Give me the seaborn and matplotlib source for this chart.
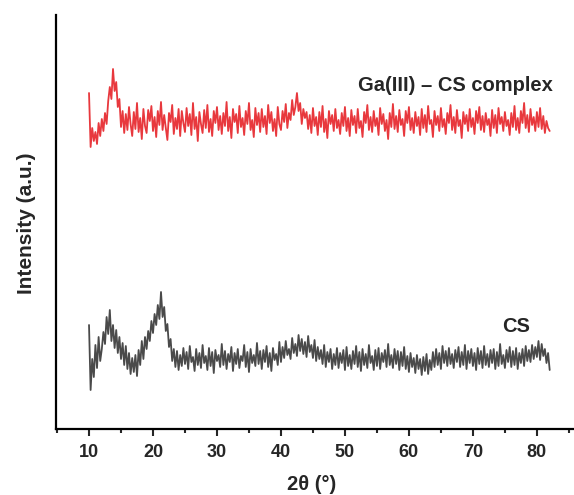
import numpy as np
import pandas as pd
import matplotlib
matplotlib.use("Agg")
import matplotlib.pyplot as plt
from matplotlib.ticker import MultipleLocator
import seaborn as sns

# 2-theta grid (degrees), 0.25 deg steps from 10 to 82
two_theta = np.arange(10.0, 82.001, 0.25)

# Ga(III)-CS complex intensity (a.u.)
ga_cs = [
    336, 282, 301, 288, 297, 285, 306, 293, 310, 298, 316, 305,
    328, 342, 330, 360, 338, 347, 322, 330, 302, 318, 296, 315,
    299, 322, 305, 293, 317, 300, 326, 297, 311, 290, 320, 303,
    296, 319, 308, 323, 298, 312, 292, 318, 304, 327, 299, 314,
    301, 289, 316, 307, 324, 295, 311, 300, 320, 293, 318, 306,
    297, 321, 303, 315, 294, 326, 300, 312, 288, 317, 305, 296,
    319, 301, 324, 297, 310, 293, 318, 306, 322, 299, 313, 295,
    316, 303, 327, 298, 312, 291, 320, 307, 315, 296, 323, 302,
    311, 294, 318, 305, 326, 299, 309, 292, 321, 304, 316, 297,
    320, 302, 313, 295, 324, 306, 317, 298, 310, 293, 322, 305,
    299, 318, 307, 325, 301, 316, 309, 329, 314, 322, 336, 318,
    326, 305, 320, 311, 317, 300, 314, 296, 321, 303, 312, 294,
    317, 302, 323, 297, 310, 291, 318, 305, 314, 298, 320, 301,
    309, 295, 316, 303, 322, 298, 311, 293, 319, 304, 313, 296,
    320, 301, 308, 292, 317, 306, 324, 299, 312, 297, 318, 303,
    311, 294, 321, 305, 315, 298, 309, 290, 316, 302, 325, 300,
    313, 297, 319, 304, 310, 293, 318, 306, 322, 299, 311, 296,
    317, 303, 312, 294, 320, 301, 314, 297, 323, 305, 309, 292,
    318, 304, 313, 298, 321, 302, 310, 295, 316, 306, 324, 299,
    312, 296, 319, 303, 309, 291, 317, 305, 314, 298, 320, 302,
    311, 295, 318, 306, 322, 299, 313, 297, 316, 304, 310, 293,
    319, 301, 314, 296, 321, 305, 312, 298, 317, 303, 309, 294,
    316, 302, 323, 299, 311, 296, 318, 306, 326, 301, 314, 297,
    320, 304, 312, 298, 317, 302, 321, 300, 313, 296, 308, 301,
    298,
]

# CS intensity (a.u.)
cs = [
    104, 39, 70, 52, 84, 61, 92, 68, 80, 97, 85, 112,
    95, 119, 88, 104, 81, 99, 76, 92, 70, 86, 64, 83,
    60, 76, 55, 71, 57, 74, 53, 79, 64, 88, 70, 92,
    80, 98, 88, 108, 96, 115, 104, 124, 110, 137, 112, 122,
    98, 105, 82, 90, 68, 80, 62, 78, 59, 74, 63, 81,
    65, 77, 60, 83, 67, 72, 58, 80, 64, 76, 61, 84,
    66, 73, 59, 81, 63, 77, 56, 79, 68, 74, 62, 85,
    64, 78, 60, 75, 67, 82, 58, 76, 65, 80, 61, 73,
    68, 84, 62, 77, 57, 80, 66, 74, 63, 86, 65, 78,
    60, 79, 67, 83, 62, 76, 58, 81, 69, 75, 64, 87,
    67, 82, 71, 88, 74, 80, 70, 91, 76, 85, 73, 94,
    78, 90, 75, 87, 72, 93, 77, 84, 71, 89, 68, 82,
    70, 79, 65, 84, 62, 77, 67, 80, 60, 75, 64, 81,
    61, 76, 66, 79, 59, 82, 63, 74, 60, 78, 65, 83,
    62, 77, 58, 80, 64, 75, 61, 84, 66, 73, 59, 79,
    63, 81, 60, 76, 67, 79, 62, 85, 64, 74, 61, 80,
    65, 78, 59, 77, 63, 82, 60, 73, 57, 76, 62, 71,
    56, 74, 60, 70, 54, 72, 58, 75, 55, 69, 59, 77,
    62, 80, 64, 76, 60, 83, 66, 78, 63, 81, 65, 75,
    61, 79, 67, 82, 62, 77, 64, 84, 60, 78, 66, 80,
    63, 76, 59, 81, 65, 78, 61, 83, 64, 75, 62, 79,
    66, 80, 60, 77, 63, 85, 65, 74, 61, 79, 67, 82,
    62, 78, 64, 81, 60, 76, 66, 80, 63, 83, 68, 79,
    67, 84, 70, 82, 72, 88, 69, 85, 73, 80, 66, 76,
    59,
]

series_names = ["Ga(III) \u2013 CS complex", "CS"]
x_ticks = [10, 20, 30, 40, 50, 60, 70, 80]

df = pd.DataFrame({
    "two_theta": np.concatenate([two_theta, two_theta]),
    "intensity": np.concatenate([ga_cs, cs]),
    "sample": [series_names[0]] * len(two_theta) + [series_names[1]] * len(two_theta),
})

sns.set_style("ticks")
plt.rcParams["font.family"] = ["Liberation Sans", "DejaVu Sans"]
plt.rcParams["font.weight"] = "bold"

fig = plt.figure(figsize=(5.74, 4.95), dpi=100)
ax = fig.add_axes([56 / 574, 66 / 495, 1 - 56 / 574, (429 - 15) / 495])

sns.lineplot(data=df, x="two_theta", y="intensity", hue="sample",
             palette={series_names[0]: "#e8383d", series_names[1]: "#4a4a4a"},
             estimator=None, sort=False, linewidth=1.3, legend=False, ax=ax)

ax.set_xlim(4.84, 85.8)
ax.set_ylim(0, 414)
ax.set_xticks(x_ticks)
ax.xaxis.set_minor_locator(MultipleLocator(5))
ax.set_yticks([])
ax.tick_params(axis="x", which="major", direction="out", length=5, width=1.5,
               labelsize=13, pad=6)
ax.tick_params(axis="x", which="minor", direction="out", length=3, width=1.5)
for lbl in ax.get_xticklabels():
    lbl.set_fontweight("bold")
for side in ["top", "right"]:
    ax.spines[side].set_visible(False)
for side in ["left", "bottom"]:
    ax.spines[side].set_linewidth(1.6)
    ax.spines[side].set_color("black")

ax.set_xlabel("")
ax.set_ylabel("")
fig.text(312 / 574, 1 - 484 / 495, "2\u03b8 (\u00b0)", ha="center", va="center",
         fontsize=14.5, fontweight="bold")
fig.text(26 / 574, 1 - 223 / 495, "Intensity (a.u.)", ha="center", va="center",
         rotation=90, fontsize=15, fontweight="bold")

ax.text(82.5, 429 - 85, series_names[0], ha="right", va="center",
        fontsize=14.5, fontweight="bold")
ax.text(76.8, 429 - 326, series_names[1], ha="center", va="center",
        fontsize=14.5, fontweight="bold")

fig.savefig("out.png", dpi=100)
